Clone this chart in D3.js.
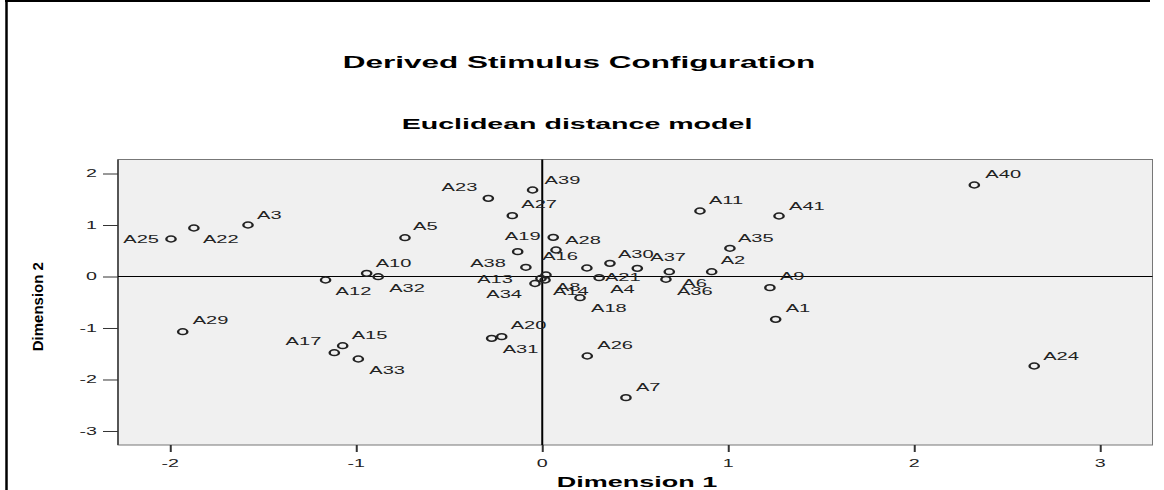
<!DOCTYPE html>
<html><head><meta charset="utf-8">
<script src="https://cdn.jsdelivr.net/npm/d3@7"></script>
<style>html,body{margin:0;padding:0;background:#fff;}svg{display:block;}</style>
</head><body>
<svg id="chart" width="1164" height="490"></svg>
<script>
// ---- data ----
const pointLabels = ["A1","A2","A3","A4","A5","A6","A7","A8","A9","A10","A11","A12","A13","A14","A15","A16","A17","A18","A19","A20","A21","A22","A23","A24","A25","A26","A27","A28","A29","A30","A31","A32","A33","A34","A35","A36","A37","A38","A39","A40","A41"];
const dimension1 = [1.255,0.911,-1.582,0.306,-0.738,0.683,0.450,0.020,1.224,-0.944,0.848,-1.165,-0.007,0.015,-1.073,0.074,-1.118,0.203,-0.132,-0.218,0.240,-1.873,-0.290,2.645,-1.996,0.242,-0.161,0.059,-1.933,0.364,-0.272,-0.882,-0.989,-0.039,1.009,0.665,0.511,-0.088,-0.052,2.323,1.273];
const dimension2 = [-0.831,0.093,1.000,-0.023,0.753,0.093,-2.353,0.029,-0.217,0.062,1.272,-0.068,-0.039,-0.068,-1.344,0.515,-1.480,-0.412,0.482,-1.169,0.165,0.942,1.518,-1.738,0.728,-1.544,1.181,0.761,-1.072,0.256,-1.200,-0.004,-1.602,-0.136,0.548,-0.054,0.159,0.179,1.680,1.777,1.175];
const xTicks = [-2,-1,0,1,2,3];
const yTicks = [2,1,0,-1,-2,-3];
const xDomain = [-2.281, 3.281];
const yDomain = [-3.272, 2.272];
// label placement relative to each point: [dx, dy, anchor]
const labelPlacement = [[10,-11,"start"],[9,-11,"start"],[9,-10,"start"],[11,12,"start"],[8,-11,"start"],[13,12,"start"],[10,-10,"start"],[10,12,"start"],[10,-11,"start"],[9,-10,"start"],[9,-11,"start"],[10,11,"start"],[-28,0.5,"end"],[8,11,"start"],[9,-10,"start"],[4,6,"middle"],[-13,-11,"end"],[11,11,"start"],[5,-15,"middle"],[9,-11,"start"],[18,9,"start"],[9,11,"start"],[-11,-11,"end"],[9,-10,"start"],[-12,0,"end"],[10,-11,"start"],[9,-11,"start"],[12,3,"start"],[10,-11,"start"],[8,-9,"start"],[11,11,"start"],[11,12,"start"],[11,11,"start"],[-13,10.5,"end"],[8,-10,"start"],[11,12,"start"],[13,-11,"start"],[-20,-4,"end"],[12,-10,"start"],[11,-11,"start"],[10,-10,"start"]];

// ---- layout ----
const SX = 1.97; // horizontal stretch of the original picture
const FONT = "'Liberation Sans', Arial, sans-serif";
const plot = {left:118, right:1152.5, top:159.5, bottom:445};
const svg = d3.select("#chart");
const x = d3.scaleLinear().domain(xDomain).range([plot.left, plot.right]);
const y = d3.scaleLinear().domain(yDomain).range([plot.bottom, plot.top]);

function stext(g, px, py, str, size, weight, anchor, fill, sx) {
  return g.append("text")
    .attr("transform", `translate(${px},${py}) scale(${sx || SX},1)`)
    .attr("text-anchor", anchor)
    .attr("font-family", FONT)
    .attr("font-size", size)
    .attr("font-weight", weight)
    .attr("fill", fill || "#000")
    .text(str);
}

// outer frame (top + left edges)
svg.append("line").attr("x1",5).attr("x2",1150).attr("y1",1).attr("y2",1).attr("stroke","#000").attr("stroke-width",2);
svg.append("line").attr("x1",6.5).attr("x2",6.5).attr("y1",0).attr("y2",490).attr("stroke","#000").attr("stroke-width",2.5);

// titles
stext(svg, 579, 68, "Derived Stimulus Configuration", 16, "bold", "middle");
stext(svg, 577, 129, "Euclidean distance model", 14.5, "bold", "middle");

// plot background
svg.append("rect").attr("x",plot.left).attr("y",plot.top)
  .attr("width",plot.right-plot.left).attr("height",plot.bottom-plot.top)
  .attr("fill","#f0f0f0").attr("stroke","#777").attr("stroke-width",1);
svg.append("line").attr("x1",plot.left).attr("x2",plot.left).attr("y1",plot.top).attr("y2",plot.bottom).attr("stroke","#555").attr("stroke-width",2);

// reference lines
svg.append("line").attr("x1",x(0)).attr("x2",x(0)).attr("y1",plot.top).attr("y2",plot.bottom).attr("stroke","#000").attr("stroke-width",2);
svg.append("line").attr("x1",plot.left).attr("x2",plot.right).attr("y1",y(0)).attr("y2",y(0)).attr("stroke","#000").attr("stroke-width",1.2);

// y axis
const yAxis = d3.axisLeft(y).tickValues(yTicks).tickSize(15).tickFormat("");
const gy = svg.append("g").attr("transform",`translate(${plot.left},0)`).call(yAxis);
gy.select(".domain").remove();
gy.selectAll(".tick line").attr("stroke","#333").attr("stroke-width",1);
yTicks.forEach(v => stext(svg, 97, y(v)+3.6, String(v), 10, "normal", "end", "#222"));

// x axis
const xAxis = d3.axisBottom(x).tickValues(xTicks).tickSize(7).tickFormat("");
const gx = svg.append("g").attr("transform",`translate(0,${plot.bottom})`).call(xAxis);
gx.select(".domain").remove();
gx.selectAll(".tick line").attr("stroke","#333").attr("stroke-width",2);
xTicks.forEach(v => stext(svg, x(v), 467, String(v), 10, "normal", "middle", "#222"));

// axis titles
stext(svg, 637, 486.5, "Dimension 1", 15, "bold", "middle", "#000", 1.8);
svg.append("text").attr("transform","translate(43,306.7) rotate(-90)")
  .attr("text-anchor","middle").attr("font-family",FONT).attr("font-size",15)
  .attr("font-weight","bold").text("Dimension 2");

// points
const pts = pointLabels.map((l,i)=>({label:l, d1:dimension1[i], d2:dimension2[i], pl:labelPlacement[i]}));
const gp = svg.append("g");
gp.selectAll("circle").data(pts).enter().append("circle")
  .attr("r",2.9).attr("fill","none").attr("stroke","#222").attr("stroke-width",1.5)
  .attr("transform",d=>`translate(${x(d.d1)},${y(d.d2)}) scale(1.6,1)`);
pts.forEach(d => {
  stext(gp, x(d.d1)+d.pl[0], y(d.d2)+d.pl[1]+3.6, d.label, 10.2, "normal", d.pl[2], "#222");
});
</script>
</body></html>
